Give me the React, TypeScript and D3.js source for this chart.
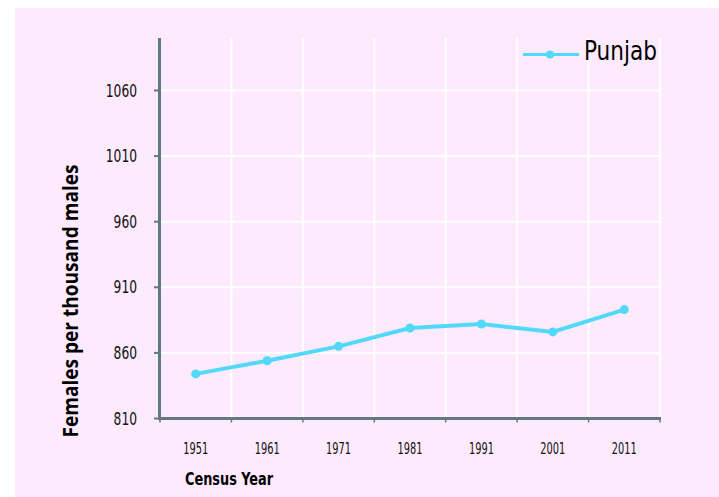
import { useEffect, useRef } from 'react';
import * as d3 from 'd3';

const years = ['1951', '1961', '1971', '1981', '1991', '2001', '2011'];
const punjab = [844, 854, 865, 879, 882, 876, 893];
const yTicks = [810, 860, 910, 960, 1010, 1060];

const lineColor = '#52d9f8';
const axisColor = '#627a7e';
const narrow = '"DejaVu Sans Condensed", "Liberation Sans", sans-serif';

function App() {
  const ref = useRef<HTMLDivElement>(null);

  useEffect(() => {
    document.body.style.margin = '0';
    const root = d3.select(ref.current);
    root.selectAll('*').remove();
    const svg = root.append('svg').attr('width', 719).attr('height', 497).style('display', 'block');

    svg.append('rect').attr('x', 15).attr('y', 8).attr('width', 704).attr('height', 489).attr('fill', '#fdebfd');

    const x = d3.scaleBand().domain(years).range([160, 660]).padding(0);
    const y = d3.scaleLinear().domain([810, 1100]).range([418.5, 38]);

    const bounds = years.map((d) => x(d)! + x.bandwidth());

    // grid
    const grid = svg.append('g').attr('stroke', '#ffffff').attr('stroke-width', 2);
    grid.selectAll('line.v')
      .data(bounds)
      .enter()
      .append('line')
      .attr('x1', (d) => d)
      .attr('x2', (d) => d)
      .attr('y1', y(1100))
      .attr('y2', y(810));
    grid.selectAll('line.h')
      .data(yTicks.slice(1))
      .enter()
      .append('line')
      .attr('x1', 160)
      .attr('x2', 660)
      .attr('y1', (d) => y(d))
      .attr('y2', (d) => y(d));

    // axes
    const ax = svg.append('g').attr('stroke', axisColor);
    ax.append('line').attr('x1', 159.5).attr('x2', 159.5).attr('y1', y(1100)).attr('y2', y(810) + 1.5).attr('stroke-width', 3);
    ax.append('line').attr('x1', 158).attr('x2', 661).attr('y1', y(810)).attr('y2', y(810)).attr('stroke-width', 3);
    ax.selectAll('line.yt')
      .data(yTicks)
      .enter()
      .append('line')
      .attr('x1', 154)
      .attr('x2', 159)
      .attr('y1', (d) => y(d))
      .attr('y2', (d) => y(d))
      .attr('stroke-width', 2);
    ax.selectAll('line.xt')
      .data([160, ...bounds])
      .enter()
      .append('line')
      .attr('x1', (d) => d)
      .attr('x2', (d) => d)
      .attr('y1', y(810))
      .attr('y2', y(810) + 4)
      .attr('stroke-width', 1.5);

    svg.selectAll('text.yl')
      .data(yTicks)
      .enter()
      .append('text')
      .attr('x', 137)
      .attr('y', (d) => y(d))
      .attr('dy', '0.36em')
      .attr('text-anchor', 'end')
      .attr('font-family', narrow)
      .attr('font-size', 17)
      .attr('textLength', (d) => String(d).length * 7.8)
      .attr('lengthAdjust', 'spacingAndGlyphs')
      .attr('fill', '#111')
      .text((d) => d);

    svg.selectAll('text.xl')
      .data(years)
      .enter()
      .append('text')
      .attr('x', (d) => x(d)! + x.bandwidth() / 2 - 12.5)
      .attr('y', 449)
      .attr('dy', '0.36em')
      .attr('font-family', narrow)
      .attr('font-size', 15)
      .attr('textLength', 25)
      .attr('lengthAdjust', 'spacingAndGlyphs')
      .attr('fill', '#111')
      .text((d) => d);

    svg.append('text')
      .attr('x', 185)
      .attr('y', 479)
      .attr('dy', '0.36em')
      .attr('font-family', narrow)
      .attr('font-weight', 'bold')
      .attr('font-size', 17)
      .attr('textLength', 88)
      .attr('lengthAdjust', 'spacingAndGlyphs')
      .attr('fill', '#000')
      .text('Census Year');

    svg.append('text')
      .attr('transform', 'translate(70, 301) rotate(-90)')
      .attr('x', -136.5)
      .attr('dy', '0.36em')
      .attr('font-family', '"Open Sans", sans-serif')
      .attr('font-weight', 'bold')
      .attr('font-size', 22)
      .attr('textLength', 273)
      .attr('lengthAdjust', 'spacingAndGlyphs')
      .attr('fill', '#000')
      .text('Females per thousand males');

    // series
    const line = d3.line<number>()
      .x((d, i) => x(years[i])! + x.bandwidth() / 2)
      .y((d) => y(d));
    svg.append('path')
      .datum(punjab)
      .attr('d', line)
      .attr('fill', 'none')
      .attr('stroke', lineColor)
      .attr('stroke-width', 4);
    svg.selectAll('circle.pt')
      .data(punjab)
      .enter()
      .append('circle')
      .attr('cx', (d, i) => x(years[i])! + x.bandwidth() / 2)
      .attr('cy', (d) => y(d))
      .attr('r', 4.5)
      .attr('fill', lineColor);

    // legend
    const lg = svg.append('g');
    lg.append('line').attr('x1', 523).attr('x2', 579).attr('y1', 54.5).attr('y2', 54.5).attr('stroke', lineColor).attr('stroke-width', 3);
    lg.append('circle').attr('cx', 550).attr('cy', 54.5).attr('r', 4).attr('fill', lineColor);
    lg.append('text')
      .attr('x', 584)
      .attr('y', 60)
      .attr('font-family', narrow)
      .attr('font-size', 27)
      .attr('textLength', 73)
      .attr('lengthAdjust', 'spacingAndGlyphs')
      .attr('fill', '#000')
      .text('Punjab');
  }, []);

  return <div ref={ref}></div>;
}

export default App;
